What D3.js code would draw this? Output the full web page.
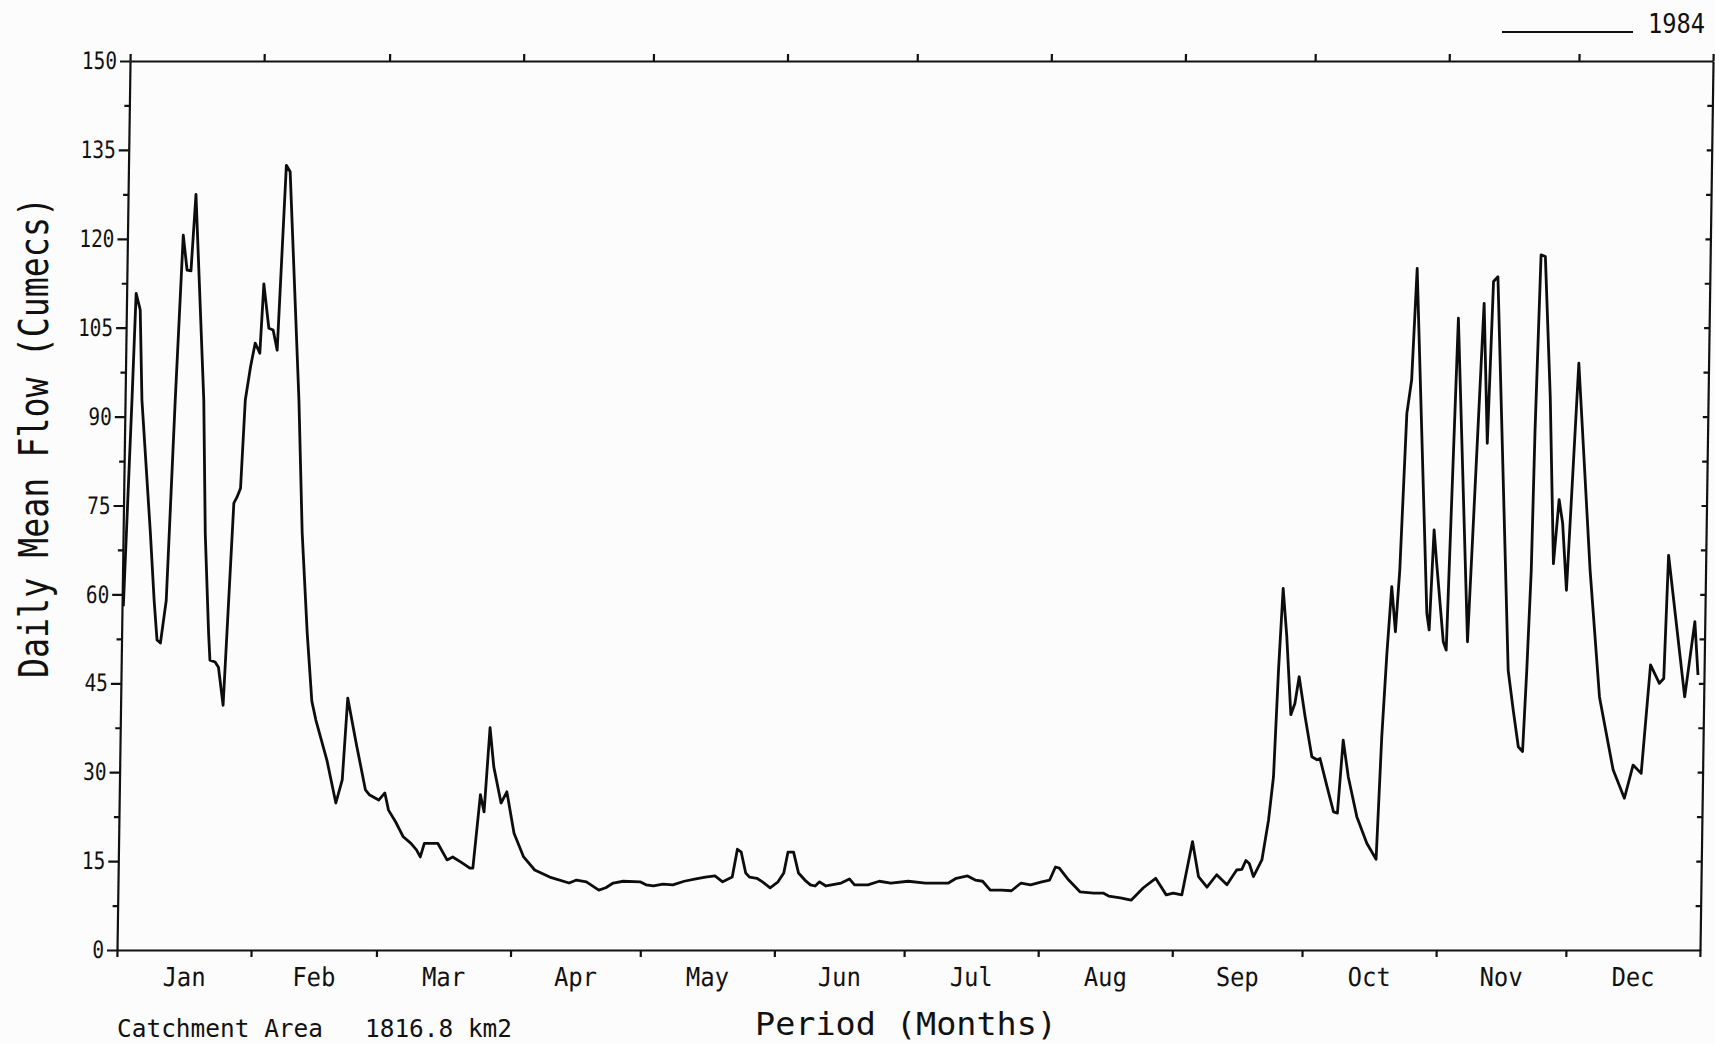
<!DOCTYPE html>
<html>
<head>
<meta charset="utf-8">
<script src="https://cdn.jsdelivr.net/npm/d3@7"></script>
<style>
  body { margin: 0; background: #fcfcfc; }
  svg { display: block; font-family: "DejaVu Sans Mono", "Liberation Mono", monospace; }
  .axis path, .axis line { stroke: #111; stroke-width: 2.2; }
  .axis text { font-family: "DejaVu Sans Mono", monospace; fill: #111; }
</style>
</head>
<body>
<div id="flow-chart"></div>
<script>
/* daily mean flow 1984, redrawn from a plotter sheet */

const monthLabels = ['Jan', 'Feb', 'Mar', 'Apr', 'May', 'Jun', 'Jul', 'Aug', 'Sep', 'Oct', 'Nov', 'Dec'];
const yMajorTicks = [0, 15, 30, 45, 60, 75, 90, 105, 120, 135, 150];
const yMinorTicks = [7.5, 22.5, 37.5, 52.5, 67.5, 82.5, 97.5, 112.5, 127.5, 142.5];
const rightTicks = [7.5, 15, 22.5, 30, 37.5, 45, 52.5, 60, 67.5, 75, 82.5, 90, 97.5, 105, 112.5, 120, 127.5, 135, 142.5];
const legendYear = '1984';
const catchmentText = ['Catchment Area', '1816.8 km2'];

// [day of year, cumecs]
const dailyFlow = [
  [0.3, 58], [1.6, 92.8], [2.2, 110.8], [3.2, 108], [3.9, 92.8], [6.3, 70.4], [7.4, 59], [8.2, 52.3],
  [9.0, 51.8], [10.2, 59], [11.6, 92.8], [12.9, 120.6], [13.9, 114.7], [14.8, 114.6], [15.7, 127.5],
  [18.2, 92.8], [19.0, 70.2], [20.1, 53.5], [20.5, 48.9], [21.7, 48.6], [22.5, 47.7], [23.7, 41.3],
  [25.5, 75.4], [26.2, 76.4], [27.0, 77.9], [27.8, 92.8], [28.9, 98.4], [29.9, 102.4], [31.0, 100.7],
  [31.7, 112.4], [33.0, 104.9], [34.0, 104.6], [35.0, 101.2], [36.5, 132.4], [37.4, 131.3], [40.2, 92.8],
  [41.4, 70.4], [42.9, 53.5], [44.2, 42], [45.2, 38.8], [47.9, 32], [50.1, 24.8], [51.5, 28.7], [52.5, 42.5],
  [54.6, 34.9], [56.9, 27], [57.8, 26.2], [60.0, 25.3], [61.4, 26.5], [62.3, 23.6], [64.0, 21.6], [65.8, 19.1],
  [67.6, 18], [68.9, 16.9], [69.8, 15.7], [70.7, 18], [72.0, 18], [73.8, 18], [76.0, 15.2], [77.3, 15.7],
  [79.5, 14.7], [81.3, 13.8], [82.0, 13.8], [83.5, 26.2], [84.4, 23.3], [85.5, 37.5], [86.5, 30.9], [88.3, 24.8],
  [89.6, 26.7], [91.4, 19.7], [93.7, 15.7], [96.3, 13.5], [99.8, 12.3], [104.3, 11.3], [106.0, 11.8], [108.3, 11.5],
  [111.2, 10.1], [112.8, 10.5], [114.5, 11.3], [116.8, 11.6], [120.7, 11.5], [122.1, 11], [123.8, 10.8], [126.0, 11.1],
  [128.3, 11], [130.9, 11.6], [133.6, 12], [135.8, 12.3], [138.0, 12.5], [139.8, 11.5], [142.0, 12.3], [143.1, 17],
  [144.0, 16.5], [145.1, 13], [146.0, 12.3], [147.7, 12.1], [149.0, 11.5], [150.8, 10.5], [152.6, 11.5], [153.9, 13],
  [154.8, 16.5], [156.1, 16.5], [157.3, 13], [158.8, 11.8], [160.1, 11], [161.2, 10.8], [162.2, 11.5], [163.7, 10.8],
  [165.0, 11], [167.2, 11.3], [169.1, 12], [170.3, 11], [173.4, 11], [176.0, 11.6], [178.7, 11.3], [182.7, 11.6],
  [186.7, 11.3], [189.3, 11.3], [192.0, 11.3], [193.8, 12.1], [196.4, 12.5], [198.2, 11.8], [199.9, 11.6], [201.7, 10.1],
  [204.3, 10.1], [206.6, 10], [208.8, 11.3], [211.0, 11], [213.6, 11.5], [215.4, 11.8], [216.7, 14], [217.6, 13.8],
  [219.8, 11.8], [222.5, 9.8], [225.6, 9.6], [227.8, 9.6], [229.1, 9.1], [231.8, 8.8], [234.3, 8.4], [237.1, 10.5],
  [239.9, 12.1], [242.4, 9.3], [244.0, 9.6], [246.0, 9.3], [248.3, 18.3], [249.8, 12.4], [251.8, 10.6], [254.0, 12.7],
  [256.4, 11], [258.6, 13.5], [259.8, 13.6], [260.7, 15.1], [261.5, 14.6], [262.5, 12.4], [264.4, 15.2], [265.8, 21.9],
  [266.8, 29.2], [267.6, 47.2], [268.4, 61], [269.4, 52.9], [270.6, 39.7], [271.5, 41.6], [272.4, 46.1], [273.9, 39.4],
  [275.6, 32.6], [276.8, 32.1], [277.5, 32.3], [279.2, 27.6], [280.8, 23.3], [281.7, 23.1], [282.8, 35.4], [284.1, 29.2],
  [286.2, 22.5], [288.6, 18], [290.8, 15.3], [291.7, 36], [292.6, 50], [293.5, 61.3], [294.5, 53.7], [295.3, 64.1],
  [296.4, 90.5], [297.4, 96.2], [298.3, 115], [301.7, 56.8], [302.3, 54], [303.1, 70.9], [303.8, 65.3], [305.6, 52],
  [306.3, 50.6], [308.0, 106.6], [311.2, 52], [313.9, 109.1], [315.1, 85.5], [316.0, 112.8], [317.0, 113.6], [320.7, 47.2],
  [322.0, 40.5], [323.3, 34.3], [324.3, 33.5], [325.0, 47.2], [325.7, 64.1], [326.1, 87.7], [326.9, 117.3], [327.9, 117],
  [329.5, 93.4], [330.8, 65.2], [331.9, 76], [332.8, 72], [333.9, 60.7], [336.0, 99], [339.3, 64.1], [341.9, 42.7],
  [345.3, 30.4], [348.0, 25.6], [349.9, 31.2], [351.8, 29.8], [353.6, 48.1], [355.7, 45], [356.7, 45.8], [357.4, 66.6],
  [361.6, 42.7], [363.7, 55.4], [364.6, 46.4]
];

const width = 1715, height = 1044;
const plotW = 1583, plotH = 889;
const x0 = 117, y0 = 950;   // bottom left corner of the frame
const lean = -0.84;          // the scanned frame leans right a little

const svg = d3.select('#flow-chart')
  .append('svg')
  .attr('width', width)
  .attr('height', height);

const g = svg.append('g')
  .attr('transform', `translate(${x0},${y0}) skewX(${lean}) translate(0,${-plotH})`);

const start = Date.UTC(1984, 0, 1), end = Date.UTC(1985, 0, 1);
const xScale = d3.scaleUtc().domain([start, end]).range([0, plotW]);
const yScale = d3.scaleLinear().domain([0, 150]).range([plotH, 0]);
const dayToDate = d => new Date(start + d * 864e5);

const monthStarts = d3.utcMonths(new Date(start), new Date(end + 1));
const monthMids = monthStarts.slice(0, 12).map((m, i) => new Date((+m + +monthStarts[i + 1]) / 2));

// left axis, labelled
g.append('g')
  .attr('class', 'axis')
  .call(d3.axisLeft(yScale).tickValues(yMajorTicks).tickSize(10).tickSizeOuter(0).tickPadding(3)
    .tickFormat(d3.format('d')))
  .selectAll('text')
  .style('font-size', '24px')
  .attr('textLength', d => String(d).length * 11.7)
  .attr('lengthAdjust', 'spacingAndGlyphs');

g.append('g')
  .attr('class', 'axis')
  .call(d3.axisLeft(yScale).tickValues(yMinorTicks).tickSize(5).tickFormat(''))
  .select('.domain').remove();

// right axis, ticks inside
g.append('g')
  .attr('class', 'axis')
  .attr('transform', `translate(${plotW},0)`)
  .call(d3.axisLeft(yScale).tickValues(rightTicks).tickSize(5).tickSizeOuter(0).tickFormat(''));

// top and bottom month ticks
g.append('g')
  .attr('class', 'axis')
  .call(d3.axisTop(xScale).tickValues(monthStarts).tickSize(7).tickSizeOuter(0).tickFormat(''));

g.append('g')
  .attr('class', 'axis')
  .attr('transform', `translate(0,${plotH})`)
  .call(d3.axisBottom(xScale).tickValues(monthStarts).tickSize(7).tickSizeOuter(0).tickFormat(''));

const monthAxis = g.append('g')
  .attr('class', 'axis')
  .attr('transform', `translate(0,${plotH})`)
  .call(d3.axisBottom(xScale).tickValues(monthMids).tickSize(0).tickFormat((d, i) => monthLabels[i]));
monthAxis.select('.domain').remove();
monthAxis.selectAll('text')
  .attr('y', 36)
  .attr('dy', 0)
  .style('font-size', '26px')
  .attr('textLength', 43)
  .attr('lengthAdjust', 'spacingAndGlyphs');

// flow line
const flowLine = d3.line()
  .x(d => xScale(dayToDate(d[0])))
  .y(d => yScale(d[1]));

g.append('path')
  .datum(dailyFlow)
  .attr('fill', 'none')
  .attr('stroke', '#0d0d0d')
  .attr('stroke-width', 2.8)
  .attr('stroke-linejoin', 'round')
  .attr('d', flowLine);

// axis titles
svg.append('text')
  .attr('transform', 'translate(48,437.5) rotate(-90)')
  .attr('text-anchor', 'middle')
  .attr('fill', '#111')
  .style('font-size', '41px')
  .attr('textLength', 481)
  .attr('lengthAdjust', 'spacingAndGlyphs')
  .text('Daily Mean Flow (Cumecs)');

svg.append('text')
  .attr('x', 755)
  .attr('y', 1035)
  .attr('fill', '#111')
  .style('font-size', '32px')
  .attr('textLength', 302)
  .attr('lengthAdjust', 'spacingAndGlyphs')
  .text('Period (Months)');

svg.append('text')
  .attr('x', 117)
  .attr('y', 1037)
  .attr('fill', '#111')
  .style('font-size', '25px')
  .attr('textLength', 206)
  .attr('lengthAdjust', 'spacingAndGlyphs')
  .text(catchmentText[0]);

svg.append('text')
  .attr('x', 365)
  .attr('y', 1037)
  .attr('fill', '#111')
  .style('font-size', '25px')
  .attr('textLength', 147)
  .attr('lengthAdjust', 'spacingAndGlyphs')
  .text(catchmentText[1]);

// legend, top right
svg.append('line')
  .attr('x1', 1502).attr('x2', 1633)
  .attr('y1', 32).attr('y2', 32)
  .attr('stroke', '#111')
  .attr('stroke-width', 2);

svg.append('text')
  .attr('x', 1648)
  .attr('y', 33)
  .attr('fill', '#111')
  .style('font-size', '27px')
  .attr('textLength', 57)
  .attr('lengthAdjust', 'spacingAndGlyphs')
  .text(legendYear);
</script>
</body>
</html>
